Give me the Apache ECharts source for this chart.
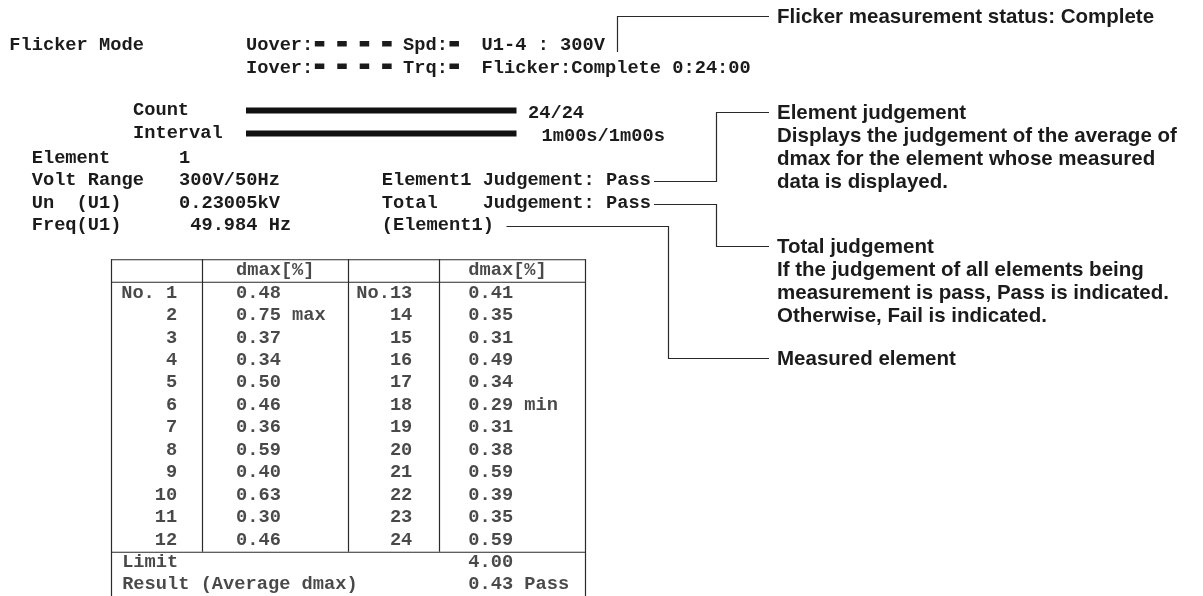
<!DOCTYPE html>
<html><head><meta charset="utf-8">
<script src="https://cdn.jsdelivr.net/npm/echarts@6/dist/echarts.min.js"></script>
<style>html,body{margin:0;padding:0;background:#fff}#c{width:1203px;height:596px}</style>
</head><body><div id="c"></div>
<script>
// ---------- DATA ----------
const modeTitle = 'Flicker Mode';
const overLabels = ['Uover:', 'Iover:'];
const sensorLabels = ['Spd:', 'Trq:'];
const statusTexts = ['U1-4 : 300V', 'Flicker:Complete 0:24:00'];
const progressLabels = ['Count', 'Interval'];
const progressDone = [24, 60];
const progressTotal = [24, 60];
const progressTexts = ['24/24', '1m00s/1m00s'];
const infoLabels = ['Element', 'Volt Range', 'Un  (U1)', 'Freq(U1)'];
const infoValues = ['1', '300V/50Hz', '0.23005kV', ' 49.984 Hz'];
const judgementLines = ['Element1 Judgement: Pass', 'Total    Judgement: Pass', '(Element1)'];
const tableHeader = 'dmax[%]';
const rowNumbersA = [1,2,3,4,5,6,7,8,9,10,11,12];
const rowNumbersB = [13,14,15,16,17,18,19,20,21,22,23,24];
const dmaxA = [0.48,0.75,0.37,0.34,0.50,0.46,0.36,0.59,0.40,0.63,0.30,0.46];
const dmaxB = [0.41,0.35,0.31,0.49,0.34,0.29,0.31,0.38,0.59,0.39,0.35,0.59];
const limitLabel = 'Limit';
const limitValue = 4.00;
const resultLabel = 'Result (Average dmax)';
const averageDmax = 0.43;
const resultJudgement = 'Pass';
const noteStatus = ['Flicker measurement status: Complete'];
const noteElement = ['Element judgement', 'Displays the judgement of the average of', 'dmax for the element whose measured', 'data is displayed.'];
const noteTotal = ['Total judgement', 'If the judgement of all elements being', 'measurement is pass, Pass is indicated.', 'Otherwise, Fail is indicated.'];
const noteMeasured = ['Measured element'];

// ---------- LAYOUT / STYLE ----------
const INK = '#1b1b1b';
const LINE = '#2a2a2a';
const FS = 18.7;               // screen font size (char width ~11.2px)
const CW = FS * 0.6;
const MONO = '"Liberation Mono", monospace';
const SANS = '"Liberation Sans", Arial, sans-serif';
const NOTE_FS = 20.5;
const NOTE_LH = 23;
const rowY = r => 45.5 + 22.5 * r;

const g = [];
function sText(x, y, text, align) {
  g.push({type:'text', x:x, y:y, silent:true, style:{text:text, font:'bold ' + FS + 'px ' + MONO, fill:INK, align:align||'left', verticalAlign:'middle'}});
}
function nText(x, y, text) {
  g.push({type:'text', x:x, y:y, silent:true, style:{text:text, font:'bold ' + NOTE_FS + 'px ' + SANS, fill:INK, align:'left', verticalAlign:'middle'}});
}
function poly(pts) {
  g.push({type:'polyline', silent:true, shape:{points:pts}, style:{stroke:LINE, lineWidth:1.2, fill:null}});
}
function seg(x1,y1,x2,y2) {
  g.push({type:'line', silent:true, shape:{x1:x1,y1:y1,x2:x2,y2:y2}, style:{stroke:LINE, lineWidth:1.2}});
}

// header lines
sText(9.3, rowY(0), modeTitle);
const X0 = 246;
for (let r = 0; r < 2; r++) {
  sText(X0, rowY(r), overLabels[r]);
  [6,8,10,12].forEach(c => g.push({type:'rect', silent:true, shape:{x:X0 + c*CW + 1.5, y:rowY(r) - 4.5, width:9.5, height:5.5}, style:{fill:INK}}));
  sText(X0 + 14*CW, rowY(r), sensorLabels[r]);
  g.push({type:'rect', silent:true, shape:{x:X0 + 18*CW + 1.5, y:rowY(r) - 4.5, width:9.5, height:5.5}, style:{fill:INK}});
  sText(X0 + 21*CW, rowY(r), statusTexts[r]);
}

// info block
infoLabels.forEach((t, i) => { sText(31.7, rowY(5 + i), t); sText(179, rowY(5 + i), infoValues[i]); });
judgementLines.forEach((t, i) => sText(381.7, rowY(6 + i), t));

// notes and leader lines
poly([[617.5, 52], [617.5, 16.5], [769, 16.5]]);
nText(777, 17, noteStatus[0]);
poly([[654, 181.5], [716.5, 181.5], [716.5, 112.5], [769, 112.5]]);
noteElement.forEach((t, i) => nText(777, 113 + NOTE_LH * i, t));
poly([[654, 204.5], [716.5, 204.5], [716.5, 246.5], [769, 246.5]]);
noteTotal.forEach((t, i) => nText(777, 247 + NOTE_LH * i, t));
poly([[506.5, 226.5], [668.5, 226.5], [668.5, 358.5], [769, 358.5]]);
nText(777, 359, noteMeasured[0]);

// table frame
const T_LEFT = 111, T_W = 474, T_TOP = 259.25, ROW_H = 22.5, T_ROWS = 15;
const colLines = [111, 202, 348, 439, 585];
const sepRow = 13;
colLines.forEach((x, i) => {
  const outer = (i === 0 || i === colLines.length - 1);
  seg(x + 0.5, T_TOP, x + 0.5, outer ? 600 : T_TOP + sepRow * ROW_H);
});
[0, 1, sepRow].forEach(k => seg(T_LEFT, T_TOP + k * ROW_H + 0.5, T_LEFT + T_W + 1, T_TOP + k * ROW_H + 0.5));

// table series (x in character columns, y = table row category)
const COL = {limit: 0.95, noA: 5.95, valA: 11.1, noB: 26.9, valB: 31.8};
const rowsCat = ['head'].concat(rowNumbersA.map(String), ['limit', 'result']);
const all = dmaxA.concat(dmaxB);
const maxV = Math.max.apply(null, all), minV = Math.min.apply(null, all);
const fmt = v => v.toFixed(2) + (v === maxV ? ' max' : v === minV ? ' min' : '');

const leftText = [[COL.valA, 0, tableHeader], [COL.valB, 0, tableHeader], [COL.limit, 13, limitLabel], [COL.limit, 14, resultLabel],
  [COL.valB, 13, limitValue.toFixed(2)], [COL.valB, 14, averageDmax.toFixed(2) + ' ' + resultJudgement]]
  .concat(dmaxA.map((v, i) => [COL.valA, i + 1, fmt(v)]), dmaxB.map((v, i) => [COL.valB, i + 1, fmt(v)]));
const rightText = rowNumbersA.map((n, i) => [COL.noA, i + 1, (i === 0 ? 'No. ' : '') + n])
  .concat(rowNumbersB.map((n, i) => [COL.noB, i + 1, (i === 0 ? 'No.' : '') + n]));

const lbl = (pos) => ({show:true, position:pos, distance:0, formatter:p => p.data[2], color:INK, fontFamily:MONO, fontWeight:'bold', fontSize:FS});

const option = {
  animation: false,
  backgroundColor: '#fff',
  grid: [
    {left: 246, top: 99, width: 270.5, height: 46},
    {left: T_LEFT, top: T_TOP, width: T_W, height: T_ROWS * ROW_H}
  ],
  xAxis: [
    {gridIndex: 0, type: 'value', min: 0, max: 1, show: false},
    {gridIndex: 1, type: 'value', min: 0, max: T_W / CW, show: false}
  ],
  yAxis: [
    {gridIndex: 0, type: 'category', data: progressLabels, inverse: true,
     axisLine: {show: false}, axisTick: {show: false},
     axisLabel: {show: true, interval: 0, hideOverlap: false, align: 'left', margin: 113, padding: [6, 0, 0, 0],
                 color: INK, fontFamily: MONO, fontWeight: 'bold', fontSize: FS}},
    {gridIndex: 1, type: 'category', data: rowsCat, inverse: true, show: false}
  ],
  series: [
    {type: 'bar', xAxisIndex: 0, yAxisIndex: 0, barWidth: 6, silent: true,
     itemStyle: {color: '#111'},
     data: progressDone.map((d, i) => ({value: d / progressTotal[i],
       label: {show: true, position: 'right', distance: i === 0 ? 11.5 : 25, offset: [0, 2.5],
               formatter: progressTexts[i], color: INK, fontFamily: MONO, fontWeight: 'bold', fontSize: FS}}))},
    {type: 'scatter', xAxisIndex: 1, yAxisIndex: 1, symbolSize: 1, silent: true,
     itemStyle: {color: 'rgba(0,0,0,0)'}, label: lbl('right'), data: leftText},
    {type: 'scatter', xAxisIndex: 1, yAxisIndex: 1, symbolSize: 1, silent: true,
     itemStyle: {color: 'rgba(0,0,0,0)'}, label: lbl('left'), data: rightText}
  ],
  graphic: {elements: g}
};
const chart = echarts.init(document.getElementById('c'), null, {renderer: 'canvas'});
chart.setOption(option);
</script></body></html>
